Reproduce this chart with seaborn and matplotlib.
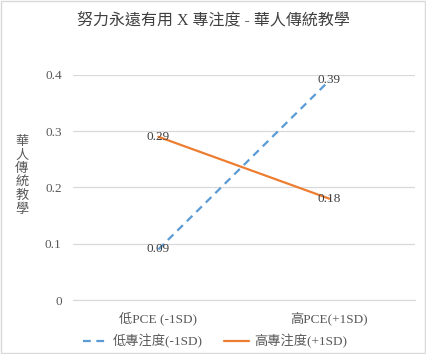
import pandas as pd
import matplotlib.pyplot as plt
import seaborn as sns

# data
groups = ["低PCE (-1SD)", "高PCE(+1SD)"]
low_att = [0.09, 0.39]
high_att = [0.29, 0.18]
series_names = ["低專注度(-1SD)", "高專注度(+1SD)"]
y_ticks = [0, 0.1, 0.2, 0.3, 0.4]

df = pd.DataFrame({
    "PCE": groups * 2,
    "value": low_att + high_att,
    "series": [series_names[0]] * 2 + [series_names[1]] * 2,
})

sns.set_style("white")
plt.rcParams["font.family"] = ["Liberation Serif", "Noto Sans CJK TC"]
text_col = "#595959"

fig = plt.figure(figsize=(4.26, 3.54), dpi=100)
ax = fig.add_axes([0.171, 0.1525, 0.803, 0.636])

palette = {series_names[0]: "#5B9BD5", series_names[1]: "#ED7D31"}
sns.lineplot(ax=ax, data=df, x="PCE", y="value", hue="series", style="series",
             palette=palette, dashes={series_names[0]: (3.5, 2.5), series_names[1]: ""},
             linewidth=1.6, legend=False)

# data labels
for vals in (low_att, high_att):
    for i, v in enumerate(vals):
        ax.text(i, v, f"{v:.2f}", ha="center", va="center", fontsize=9.5, color="#404040")

ax.set_xlim(-0.5, 1.5)
ax.set_ylim(0, 0.4)
ax.set_yticks(y_ticks)
ax.set_yticklabels(["0", "0.1", "0.2", "0.3", "0.4"])
ax.grid(axis="y", color="#D9D9D9", linewidth=0.9)
ax.set_axisbelow(True)
for s in ["top", "right", "left"]:
    ax.spines[s].set_visible(False)
ax.spines["bottom"].set_color("#D9D9D9")
ax.tick_params(axis="both", length=0, labelsize=9.5, labelcolor=text_col, pad=8)
ax.set_xlabel("")
ax.set_ylabel("華\n人\n傳\n統\n教\n學", rotation=0, fontsize=9.5, color=text_col,
              linespacing=1.15, va="center", ha="center")
ax.yaxis.set_label_coords(-0.149, 0.55)

fig.suptitle("努力永遠有用 X 專注度 - 華人傳統教學", x=0.5, y=0.965, fontsize=11.5,
             color="#404040")

# legend
handles = [plt.Line2D([], [], color="#5B9BD5", lw=1.6, ls=(0, (3.5, 2.5))),
           plt.Line2D([], [], color="#ED7D31", lw=1.6)]
leg = fig.legend(handles, series_names, loc="center", bbox_to_anchor=(0.505, 0.035), ncol=2,
                 frameon=False, fontsize=9.5, handlelength=1.9, handletextpad=0.35,
                 columnspacing=1.6)
for t in leg.get_texts():
    t.set_color(text_col)

# outer border
fig.patches.append(plt.Rectangle((0.003, 0.003), 0.994, 0.994, transform=fig.transFigure,
                                 fill=False, edgecolor="#D9D9D9", lw=1))

plt.savefig("out.png", dpi=100)
